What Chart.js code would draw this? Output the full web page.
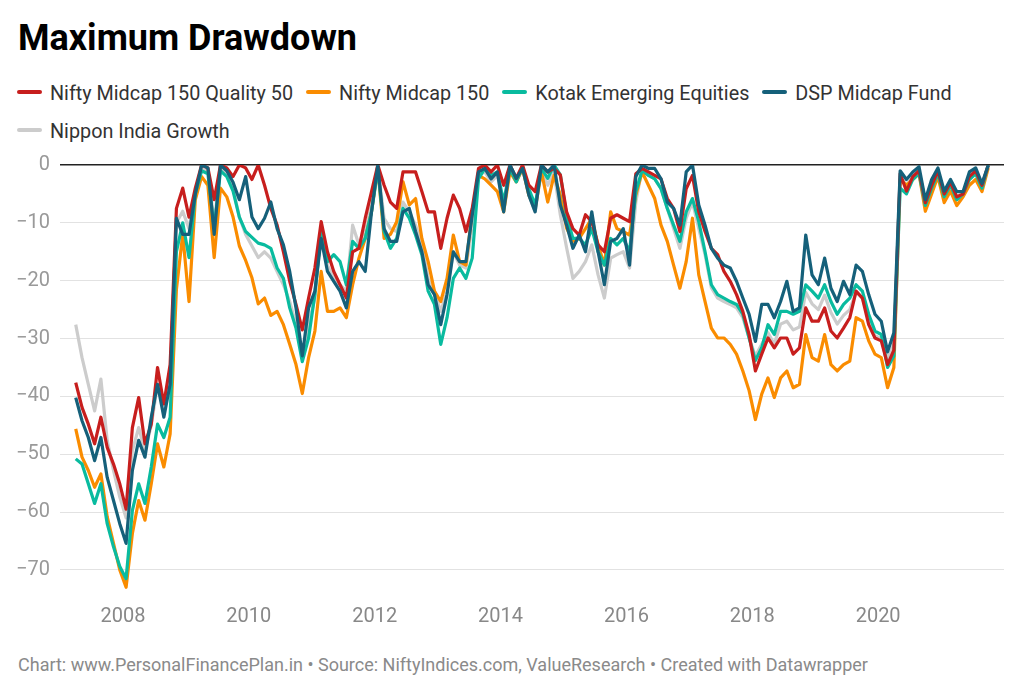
<!DOCTYPE html>
<html>
<head>
<meta charset="utf-8">
<title>Maximum Drawdown</title>
<script src="https://cdn.jsdelivr.net/npm/chart.js@4/dist/chart.umd.min.js"></script>
<style>
  body { margin: 0; background: #fff; font-family: Roboto, "Noto Sans", sans-serif; }
  #page { position: relative; width: 1024px; height: 694px; overflow: hidden; }
  h1 { position: absolute; left: 18px; top: 20px; margin: 0; font-size: 36px; line-height: 1; font-weight: 700; color: #000; }
  #legend { position: absolute; left: 17px; top: 75px; width: 1000px; font-size: 19.8px; line-height: 37.5px; color: #333; }
  #legend span.item { display: inline-block; margin-right: 13px; white-space: nowrap; }
  #legend i { display: inline-block; width: 25px; height: 4px; border-radius: 2px; margin-right: 8px; margin-bottom: 6px; vertical-align: baseline; }
  #wrap { position: absolute; left: 0; top: 143px; width: 1024px; height: 487px; }
  #foot { position: absolute; left: 18px; top: 656px; font-size: 18px; line-height: 1; color: #8a8a8a; }
</style>
</head>
<body>
<div id="page">
  <h1>Maximum Drawdown</h1>
  <div id="legend"></div>
  <div id="wrap"><canvas id="ddChart"></canvas></div>
  <div id="foot">Chart: www.PersonalFinancePlan.in • Source: NiftyIndices.com, ValueResearch • Created with Datawrapper</div>
</div>
<script>
// x positions as decimal years
const dates = [
  2007.25, 2007.35, 2007.45, 2007.55, 2007.65, 2007.75, 2007.85, 2007.95,
  2008.05, 2008.15, 2008.25, 2008.35, 2008.45, 2008.55, 2008.65, 2008.75, 2008.85, 2008.95,
  2009.05, 2009.15, 2009.25, 2009.35, 2009.45, 2009.55, 2009.65, 2009.75, 2009.85, 2009.95,
  2010.05, 2010.15, 2010.25, 2010.35, 2010.45, 2010.55, 2010.65, 2010.75, 2010.85, 2010.95,
  2011.05, 2011.15, 2011.25, 2011.35, 2011.45, 2011.55, 2011.65, 2011.75, 2011.85, 2011.95,
  2012.05, 2012.15, 2012.25, 2012.35, 2012.45, 2012.55, 2012.65, 2012.75, 2012.85, 2012.95,
  2013.05, 2013.15, 2013.25, 2013.35, 2013.45, 2013.55, 2013.65, 2013.75, 2013.85, 2013.95,
  2014.05, 2014.15, 2014.25, 2014.35, 2014.45, 2014.55, 2014.65, 2014.75, 2014.85, 2014.95,
  2015.05, 2015.15, 2015.25, 2015.35, 2015.45, 2015.55, 2015.65, 2015.75, 2015.85, 2015.95,
  2016.05, 2016.15, 2016.25, 2016.35, 2016.45, 2016.55, 2016.65, 2016.75, 2016.85, 2016.95,
  2017.05, 2017.15, 2017.25, 2017.35, 2017.45, 2017.55, 2017.65, 2017.75, 2017.85, 2017.95,
  2018.05, 2018.15, 2018.25, 2018.35, 2018.45, 2018.55, 2018.65, 2018.75, 2018.85, 2018.95,
  2019.05, 2019.15, 2019.25, 2019.35, 2019.45, 2019.55, 2019.65, 2019.75, 2019.85, 2019.95,
  2020.05, 2020.15, 2020.25, 2020.35, 2020.45, 2020.55, 2020.65, 2020.75, 2020.85, 2020.95,
  2021.05, 2021.15, 2021.25, 2021.35, 2021.45, 2021.55, 2021.65, 2021.75
];

const quality50 = [
  -37.6, -41.9, -44.8, -48.2, -43.6, -48.8, -51.7, -55.1, -59.5, -45.4,
  -40.2, -48.2, -44.8, -35, -41.3, -34.5, -7.5, -4, -9, -4,
  0, -0.5, -6, 0, -0.5, -2, 0, -0.5, -2.5, 0,
  -3.5, -7.5, -10.4, -15, -20.1, -24.1, -28.5, -23, -17.8, -9.8,
  -15, -18.4, -20.7, -23, -15, -14.4, -9.2, -4.6, 0, -3.5,
  -6.4, -7.5, -1.2, -1.2, -1.2, -4.6, -8.1, -8.1, -14.4, -9.2,
  -5.2, -7.5, -11.5, -7.5, -0.6, 0, -1.2, 0, -3.5, 0,
  -2.3, 0, -3.5, -4.6, 0, -1.2, -0.6, -1.7, -8.1, -11,
  -12.1, -8.6, -9.8, -13.8, -15, -9.2, -8.6, -9.2, -9.8, -1.5,
  -0.6, -1.2, -1.8, -2.4, -5.8, -7.5, -11.5, -4.1, -1.8, -8.1,
  -11.5, -14.4, -15.5, -18.4, -20.1, -22.4, -25.3, -29.3, -35.6, -32.7,
  -29.9, -31.6, -29.9, -29.9, -32.7, -31.6, -24.7, -27, -27, -24.7,
  -28.7, -29.9, -28.2, -26.4, -21.8, -23, -27.6, -29.9, -30.4, -34.5,
  -32, -1.5, -4.5, -2, -1, -6.5, -3.5, -1, -5, -3,
  -5.5, -5, -2, -1, -3.5, 0
];

const midcap150 = [
  -45.6, -50.5, -52.8, -55.7, -53.4, -60.8, -65.4, -70, -73, -63.7,
  -58, -61.4, -55.1, -48.2, -52.2, -46.5, -21.5, -12, -23.6, -6,
  -2, -3.5, -16, -4, -5.5, -9, -14, -16.5, -19.5, -24,
  -23, -26, -25.3, -27.6, -31, -34.5, -39.5, -33.3, -28.7, -18.4,
  -25.3, -25.3, -24.7, -26.4, -20.7, -16.1, -12.7, -8.1, -0.6, -12.7,
  -12, -9.8, -2.9, -6.9, -5.8, -12.7, -16.7, -21.8, -23.6, -19.6,
  -12.1, -16.7, -17.3, -8.1, -1.8, -2.4, -3.5, -4.6, -8.1, -1.2,
  -2.9, -0.6, -5.2, -7.5, -1.2, -6.4, -1.8, -5.2, -10.9, -13.2,
  -12.7, -11, -9.2, -13.8, -17.3, -8.1, -11, -11.5, -12.1, -5.2,
  -1.2, -3.5, -5.8, -10.4, -13.2, -17.3, -21.3, -16.7, -9.2, -19,
  -23.6, -28.2, -29.9, -29.9, -31, -32.7, -35.6, -39, -44, -39.6,
  -36.8, -40.2, -36.8, -35.6, -38.5, -37.9, -29.3, -33.3, -33.9, -29.3,
  -34.5, -35.6, -34.5, -33.9, -26.4, -27, -30.4, -32.7, -33.3, -38.5,
  -35, -2.5, -3.5, -2.5, -1.5, -8, -5, -2, -6.5, -4.5,
  -7, -5.5, -3.5, -2.5, -4.6, -0.5
];

const kotakEmerging = [
  -50.8, -51.7, -55.1, -58.5, -55.1, -62, -66, -69.4, -71.5, -59.7,
  -55.1, -58.5, -52.2, -44.8, -47.1, -43.6, -15, -10, -16, -5,
  -1, -1.5, -11, -1, -2, -4.5, -9, -11.5, -12.5, -13.5,
  -13.8, -14.4, -17.8, -19.6, -24.7, -28.2, -34, -29.9, -22.4, -11,
  -16.7, -15.5, -16.7, -20.7, -13.2, -14.4, -12.7, -8.1, -0.6, -11.5,
  -14.4, -12.7, -7.5, -9.2, -12.1, -15.5, -21.8, -24.1, -31, -26.4,
  -19.6, -17.8, -19.6, -16.1, -2.4, -0.6, -1.8, -1.2, -6.4, -0.6,
  -2.9, -0.3, -4.1, -6.9, -0.6, -2.3, 0, -1.7, -8.7, -12.7,
  -12.7, -13.8, -11, -15, -17.3, -12.7, -13.8, -12.7, -15, -4.6,
  -0.9, -1.8, -2.4, -4.1, -7.5, -10.4, -13.2, -8.1, -5.8, -9.8,
  -15, -20.7, -22.4, -23, -23.6, -24.1, -25.8, -29.9, -33.8, -31.6,
  -27.6, -29.3, -25.3, -25.3, -25.8, -25.3, -20.7, -21.8, -23, -20.7,
  -23.6, -25.8, -24.1, -23, -20.7, -21.8, -25.8, -28.7, -29.3, -35,
  -33, -4, -5, -2.5, -1.5, -7, -4, -1.5, -5.5, -3.5,
  -6, -5, -2.5, -1.5, -4, 0
];

const dspMidcap = [
  -40.2, -44.2, -47.1, -51.1, -47.1, -54, -58, -62, -65.4, -52.8,
  -47.6, -50.5, -43.6, -37.9, -43.6, -37.9, -9.2, -12, -12, -5,
  0, -0.5, -12, 0, -1, -3, -6, -2, -9, -11,
  -9.2, -6.4, -11, -13.8, -18.4, -24.7, -33, -24.7, -21.8, -12.7,
  -18.4, -20.1, -21.8, -24.7, -18.4, -16.7, -18.4, -8.1, 0, -11,
  -13.2, -13.2, -8.1, -7.5, -11.5, -15, -20.7, -22.4, -27.6, -22.4,
  -15, -16.7, -16.7, -8.7, -1.2, -0.6, -2.4, -1.2, -8.1, 0,
  -2.3, -0.6, -5.2, -8.1, 0, -1.2, 0, -6.9, -10.4, -14.4,
  -12.1, -15, -8.1, -15, -20.7, -13.2, -12.7, -11, -17.3, -2,
  0, -0.6, -0.6, -2.4, -6.4, -7.5, -10.4, -1.2, 0, -6.9,
  -10.4, -14.4, -16.1, -17.3, -17.8, -20.1, -23, -25.8, -30.5, -24.1,
  -24.1, -26.4, -23.6, -20.1, -25.3, -24.7, -12.1, -19, -20.7, -16.1,
  -21.3, -23.6, -20.1, -22.4, -17.3, -18.4, -22.4, -25.8, -27, -32.3,
  -29, -1, -2.5, -1.2, -0.3, -6, -2.5, -0.5, -4.5, -2.5,
  -4.6, -4.6, -1.2, -0.5, -3.2, 0
];

const nipponGrowth = [
  -27.6, -33.3, -37.9, -42.5, -37, -47.6, -52.8, -57.4, -61, -49.4,
  -45.4, -49.4, -45, -38, -42, -36, -10, -8, -11, -4.5,
  -0.5, -1, -10, -0.5, -1.5, -4, -9, -12, -14, -16,
  -15, -16.1, -18.4, -20.7, -23.6, -27.6, -33, -27.6, -23, -11.5,
  -17.3, -19.6, -20.7, -21.8, -10.4, -13.8, -11.5, -6.9, 0, -9.2,
  -11, -11.5, -6.4, -8.1, -10.4, -13.8, -19.6, -21.8, -25.3, -21.8,
  -15, -17.3, -17.8, -10.4, -1.8, -1.2, -2.9, -1.8, -6.9, -0.6,
  -2.9, -0.6, -5.2, -8.1, -0.6, -3.5, -1.2, -8.6, -14.3, -19.6,
  -18.4, -16.7, -13.8, -19, -23, -16.1, -15.5, -15, -17.8, -6.4,
  -0.6, -1.8, -2.4, -4.1, -7.5, -11, -14.4, -9.2, -6.4, -11,
  -15.5, -21.2, -23, -23.6, -24.1, -24.7, -26.4, -29.9, -33, -31,
  -29, -31, -27.5, -27, -28.5, -28, -22, -24, -25, -22.5,
  -25.5, -27.5, -26, -25, -22, -23, -26.5, -29.5, -30, -33.5,
  -31, -2, -3.5, -2, -1, -7, -4, -1, -5.5, -3.5,
  -6, -5, -2.5, -1.5, -4, 0
];

const xTicks = [2008, 2010, 2012, 2014, 2016, 2018, 2020];
const yTicks = [0, -10, -20, -30, -40, -50, -60, -70];

// legend order, colours, and draw order (lower = on top)
const series = [
  { name: 'Nifty Midcap 150 Quality 50', values: quality50, color: '#c71e1d', order: 1 },
  { name: 'Nifty Midcap 150', values: midcap150, color: '#fa8c00', order: 3 },
  { name: 'Kotak Emerging Equities', values: kotakEmerging, color: '#09bb9f', order: 2 },
  { name: 'DSP Midcap Fund', values: dspMidcap, color: '#15607a', order: 0 },
  { name: 'Nippon India Growth', values: nipponGrowth, color: '#cccccc', order: 4 },
];

const legend = document.getElementById('legend');
series.forEach(s => {
  const item = document.createElement('span');
  item.className = 'item';
  item.innerHTML = '<i style="background:' + s.color + '"></i>' + s.name;
  legend.appendChild(item);
});

const canvas = document.getElementById('ddChart');

new Chart(canvas, {
  type: 'line',
  data: {
    datasets: series.map(s => ({
      label: s.name,
      data: s.values.map((v, i) => ({ x: dates[i], y: v })),
      borderColor: s.color,
      backgroundColor: s.color,
      borderWidth: 3.2,
      pointRadius: 0,
      tension: 0,
      borderJoinStyle: 'round',
      order: s.order,
    })),
  },
  options: {
    responsive: true,
    maintainAspectRatio: false,
    animation: false,
    layout: { padding: { top: 13, right: 20, bottom: 0, left: 0 } },
    plugins: {
      legend: { display: false },
      tooltip: { enabled: false },
    },
    scales: {
      x: {
        type: 'linear',
        min: 2007,
        max: 2022,
        grid: { display: false },
        border: { display: false },
        afterBuildTicks: scale => { scale.ticks = xTicks.map(v => ({ value: v })); },
        afterFit: scale => { scale.height = 34; },
        ticks: {
          autoSkip: false,
          maxRotation: 0,
          padding: 1,
          color: '#888',
          font: { family: 'Roboto', size: 20 },
          callback: v => String(v),
        },
      },
      y: {
        min: -74.5,
        max: 0,
        border: { display: false },
        afterBuildTicks: scale => { scale.ticks = yTicks.map(v => ({ value: v })); },
        afterFit: scale => { scale.width = 60; },
        grid: {
          drawTicks: false,
          color: ctx => (ctx.tick && ctx.tick.value === 0 ? '#222' : '#e2e2e2'),
          lineWidth: ctx => (ctx.tick && ctx.tick.value === 0 ? 1.5 : 1),
        },
        ticks: {
          padding: 10,
          color: '#999',
          font: { family: 'Roboto', size: 20 },
          callback: v => (v < 0 ? '\u2212' + Math.abs(v) : String(v)),
        },
      },
    },
  },
});
</script>
</body>
</html>
